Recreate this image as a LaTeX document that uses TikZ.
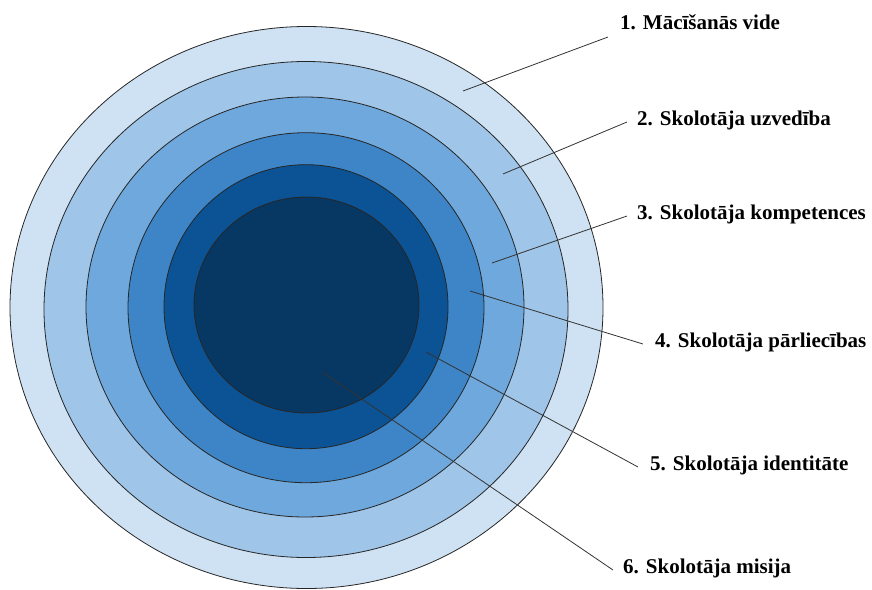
\documentclass[tikz,border=0pt]{standalone}
\usepackage{fontspec}
\setmainfont{Liberation Serif}
\usetikzlibrary{positioning}

\definecolor{ringA}{HTML}{CFE2F3}
\definecolor{ringB}{HTML}{9FC5E8}
\definecolor{ringC}{HTML}{6FA8DC}
\definecolor{ringD}{HTML}{3D85C6}
\definecolor{ringE}{HTML}{0B5394}
\definecolor{ringF}{HTML}{073763}

\begin{document}
\begin{tikzpicture}[
		  x=1pt,y=-1pt,
		  ring/.style={draw=black!85,line width=0.8pt},
		  lbl/.style={font=\fontsize{21}{24}\selectfont\bfseries,inner xsep=10pt,inner ysep=0pt,
		    text height=6pt,text depth=0pt,anchor=west},
		  leader/.style={draw=black!80,line width=0.8pt}
		]
		\useasboundingbox (0,0) rectangle (872,589);
		% rings, outside in
		\foreach \cx/\cy/\rx/\ry/\col in {306.5/307.5/296.5/281/ringA,306/309.5/262/248/ringB,
		    305/307/219/210/ringC,306/307.7/178/175/ringD,306/306.7/142/142/ringE,306.5/305/112.5/108/ringF}
		  \draw[ring,fill=\col] (\cx,\cy) ellipse [x radius=\rx pt,y radius=\ry pt];
		\coordinate (p1) at (463,91);
		\coordinate (p2) at (503,174);
		\coordinate (p3) at (492,263);
		\coordinate (p4) at (470,291);
		\coordinate (p5) at (426,352);
		\coordinate (p6) at (322,372);
		\node[lbl] (l1) at (610,26) {1. Mācīšanās vide};
		\node[lbl] (l2) at (627,122) {2. Skolotāja uzvedība};
		\node[lbl] (l3) at (627,216) {3. Skolotāja kompetences};
		\node[lbl,inner xsep=12pt] (l4) at (643,344) {4. Skolotāja pārliecības};
		\node[lbl,inner xsep=12pt] (l5) at (638,467) {5. Skolotāja identitāte};
		\node[lbl] (l6) at (613,570) {6. Skolotāja misija};
		\path (p1) edge[leader] ([xshift=-2pt,yshift=-11pt]l1.west)
			(p2) edge[leader] (l2.west)
			(p3) edge[leader] (l3.west)
			(p4) edge[leader] (l4.west)
			(p5) edge[leader] (l5.west)
			(p6) edge[leader] (l6.west);
		\end{tikzpicture}
\end{document}
